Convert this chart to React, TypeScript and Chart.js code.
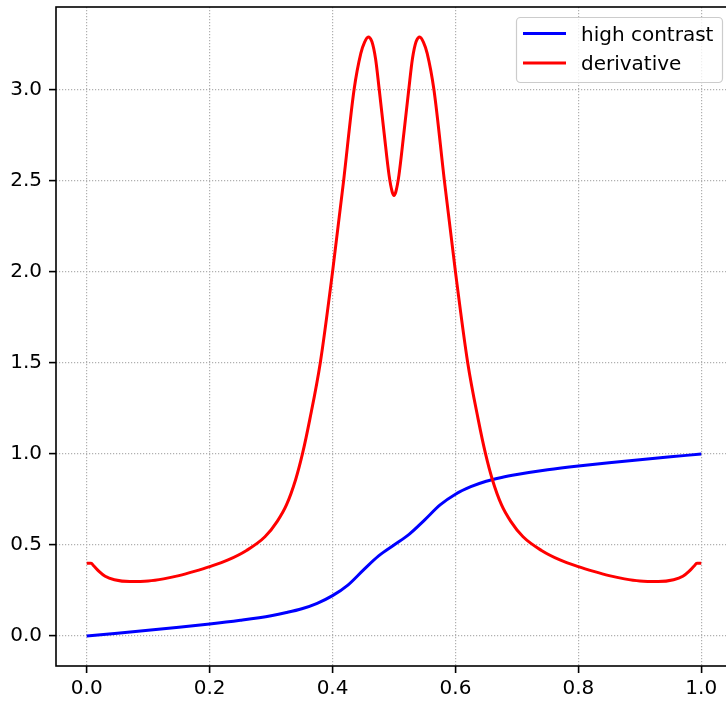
import { useEffect, useRef } from "react";
import { Chart, registerables } from "chart.js";

Chart.register(...registerables);

// "high contrast" curve
const contrastX = [
  0.0, 0.05, 0.1, 0.15, 0.2, 0.25, 0.3, 0.325, 0.35, 0.375, 0.4, 0.425, 0.45,
  0.475, 0.5, 0.525, 0.55, 0.575, 0.6, 0.625, 0.65, 0.675, 0.7, 0.75, 0.8,
  0.85, 0.9, 0.95, 1.0,
];
const contrastY = [
  0.0, 0.016, 0.032, 0.048, 0.066, 0.087, 0.112, 0.129, 0.15, 0.18, 0.222,
  0.28, 0.362, 0.44, 0.5, 0.56, 0.638, 0.72, 0.779, 0.82, 0.85, 0.871, 0.887,
  0.913, 0.934, 0.952, 0.968, 0.984, 1.0,
];

// "derivative" curve
const derivX = [
  0.0, 0.007, 0.012, 0.02, 0.03, 0.045, 0.07, 0.1, 0.125, 0.15, 0.175, 0.2,
  0.23, 0.26, 0.29, 0.31, 0.325, 0.34, 0.351, 0.363, 0.38, 0.4, 0.418, 0.435,
  0.446, 0.452, 0.458, 0.464, 0.47, 0.476, 0.484, 0.492, 0.497, 0.5, 0.503,
  0.508, 0.516, 0.524, 0.53, 0.536, 0.542, 0.548, 0.554, 0.565, 0.582, 0.6,
  0.62, 0.637, 0.649, 0.66, 0.675, 0.69, 0.71, 0.74, 0.77, 0.8, 0.825, 0.85,
  0.875, 0.9, 0.93, 0.955, 0.97, 0.98, 0.988, 0.993, 1.0,
];
const derivY = [
  0.4, 0.4, 0.383, 0.355, 0.328, 0.309, 0.299, 0.302, 0.314, 0.332, 0.355,
  0.381, 0.418, 0.47, 0.545, 0.63, 0.72, 0.86, 1.0, 1.19, 1.5, 2.0, 2.5, 3.0,
  3.2, 3.26, 3.29, 3.265, 3.17, 3.0, 2.76, 2.53, 2.44, 2.42, 2.44, 2.53, 2.76,
  3.0, 3.17, 3.265, 3.29, 3.26, 3.2, 3.0, 2.5, 2.0, 1.5, 1.19, 1.0, 0.86, 0.72,
  0.63, 0.545, 0.47, 0.418, 0.381, 0.355, 0.332, 0.314, 0.302, 0.299, 0.309,
  0.328, 0.355, 0.383, 0.4, 0.4,
];

const xTicks = [0.0, 0.2, 0.4, 0.6, 0.8, 1.0];
const yTicks = [0.0, 0.5, 1.0, 1.5, 2.0, 2.5, 3.0];
const seriesLabels = ["high contrast", "derivative"];
const seriesColors = ["#0000ff", "#ff0000"];

const FONT = "'DejaVu Sans', sans-serif";

const spinesPlugin = {
  id: "spines",
  afterDatasetsDraw(chart: any) {
    const { ctx, chartArea } = chart;
    ctx.save();
    ctx.strokeStyle = "#000";
    ctx.lineWidth = 1.6;
    ctx.strokeRect(
      chartArea.left,
      chartArea.top,
      chartArea.right - chartArea.left,
      chartArea.bottom - chartArea.top
    );
    ctx.restore();
  },
};

const legendPlugin = {
  id: "mplLegend",
  afterDraw(chart: any) {
    const { ctx } = chart;
    const ds = chart.data.datasets;
    const x0 = 516.5;
    const y0 = 17.5;
    const w = 206;
    const h = 65;
    ctx.save();
    ctx.beginPath();
    ctx.roundRect(x0, y0, w, h, 4);
    ctx.fillStyle = "rgba(255,255,255,0.8)";
    ctx.fill();
    ctx.strokeStyle = "#cccccc";
    ctx.lineWidth = 1.2;
    ctx.stroke();
    ctx.font = `20px ${FONT}`;
    ctx.textBaseline = "alphabetic";
    ctx.textAlign = "left";
    ds.forEach((d: any, i: number) => {
      const cy = 33.5 + i * 29.5;
      ctx.beginPath();
      ctx.strokeStyle = d.borderColor;
      ctx.lineWidth = 3;
      ctx.moveTo(523, cy);
      ctx.lineTo(566, cy);
      ctx.stroke();
      ctx.fillStyle = "#000";
      ctx.fillText(d.label, 581, cy + 7.2);
    });
    ctx.restore();
  },
};

export default function App() {
  const ref = useRef<HTMLCanvasElement | null>(null);

  useEffect(() => {
    if (!ref.current) return;
    const chart = new Chart(ref.current, {
      type: "line",
      data: {
        datasets: [
          {
            label: seriesLabels[0],
            data: contrastX.map((x, i) => ({ x, y: contrastY[i] })),
            borderColor: seriesColors[0],
            borderWidth: 3,
            pointRadius: 0,
            fill: false,
            cubicInterpolationMode: "monotone",
            order: 1,
          },
          {
            label: seriesLabels[1],
            data: derivX.map((x, i) => ({ x, y: derivY[i] })),
            borderColor: seriesColors[1],
            borderWidth: 3,
            pointRadius: 0,
            fill: false,
            cubicInterpolationMode: "monotone",
            order: 0,
          },
        ],
      },
      options: {
        animation: false,
        responsive: false,
        devicePixelRatio: 1,
        layout: { padding: { top: 7, left: 0, right: 0, bottom: 0 } },
        plugins: {
          legend: { display: false },
          tooltip: { enabled: false },
        },
        scales: {
          x: {
            type: "linear",
            min: -0.05,
            max: 1.05,
            afterBuildTicks: (s: any) => {
              s.ticks = xTicks.map((v) => ({ value: v }));
            },
            afterFit: (s: any) => {
              s.height = 36;
              s.paddingLeft = 0;
              s.paddingRight = 0;
            },
            ticks: {
              callback: (v: any) => Number(v).toFixed(1),
              color: "#000",
              font: { family: FONT, size: 20 },
              padding: 4,
              maxRotation: 0,
              autoSkip: false,
            },
            grid: {
              color: "#b0b0b0",
              lineWidth: 1.2,
              tickLength: 7,
              tickColor: "#000",
              tickWidth: 1.6,
            },
            border: { display: false, dash: [1.2, 1.8] },
          },
          y: {
            type: "linear",
            min: -0.1645,
            max: 3.4545,
            afterBuildTicks: (s: any) => {
              s.ticks = yTicks.map((v) => ({ value: v }));
            },
            afterFit: (s: any) => {
              s.width = 56;
              s.paddingTop = 0;
              s.paddingBottom = 0;
            },
            ticks: {
              callback: (v: any) => Number(v).toFixed(1),
              color: "#000",
              font: { family: FONT, size: 20 },
              padding: 7,
              autoSkip: false,
            },
            grid: {
              color: "#b0b0b0",
              lineWidth: 1.2,
              tickLength: 7,
              tickColor: "#000",
              tickWidth: 1.6,
            },
            border: { display: false, dash: [1.2, 1.8] },
          },
        },
      },
      plugins: [spinesPlugin, legendPlugin],
    } as any);
    return () => chart.destroy();
  }, []);

  return (
    <div
      style={{
        position: "fixed",
        left: 0,
        top: 0,
        width: 726,
        height: 702,
        overflow: "hidden",
        background: "#fff",
      }}
    >
      <canvas ref={ref} width={732} height={702} style={{ display: "block" }} />
    </div>
  );
}
